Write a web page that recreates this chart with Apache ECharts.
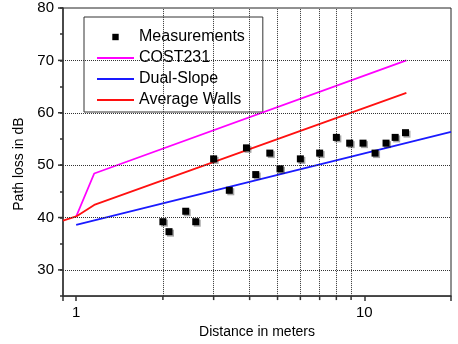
<!DOCTYPE html>
<html>
<head>
<meta charset="utf-8">
<script src="https://cdn.jsdelivr.net/npm/echarts@6/dist/echarts.min.js"></script>
<style>
  html, body { margin: 0; padding: 0; background: #fff; }
  #chart { width: 458px; height: 344px; }
</style>
</head>
<body>
<div id="chart"></div>
<script>
// measured points
const measDist = [2, 2.1, 2.4, 2.6, 3.0, 3.4, 3.9, 4.2, 4.7, 5.1, 6, 7, 8, 8.9, 9.9, 10.9, 11.9, 12.8, 13.9];
const measLoss = [39.2, 37.3, 41.2, 39.2, 51.2, 45.2, 53.3, 48.2, 52.3, 49.3, 51.2, 52.3, 55.3, 54.2, 54.2, 52.3, 54.2, 55.3, 56.2];

// model curves
const costDist = [1, 1.155, 14];
const costLoss = [40.2, 48.4, 70];
const dualDist = [1, 20];
const dualLoss = [38.6, 56.35];
const wallsDist = [0.9, 1, 1.155, 14];
const wallsLoss = [39.4, 40.2, 42.4, 63.8];

// axes
const xLabels = [1, 10];
const xGridValues = [2, 3, 4, 5, 6, 7, 8, 9];
const yGridValues = [30, 40, 50, 60, 70];
const yMajorTicks = [30, 40, 50, 60, 70, 80];

const pairs = (xs, ys) => xs.map((x, i) => [x, ys[i]]);

const chart = echarts.init(document.getElementById('chart'), null, { renderer: 'canvas' });

const gridLine = { color: '#333', width: 1, type: 'dotted' };
const font = 'Liberation Sans, Arial, sans-serif';

chart.setOption({
  animation: false,
  grid: {
    left: 63, right: 7, top: 8, bottom: 42,
    show: true, borderColor: '#222', borderWidth: 1
  },
  legend: {
    orient: 'vertical',
    left: 84, top: 17,
    padding: [12, 18, 4, 12],
    itemWidth: 37, itemHeight: 8, itemGap: 5,
    borderColor: '#333', borderWidth: 1,
    textStyle: { fontSize: 16, color: '#000', fontFamily: font },
    data: [
      { name: 'Measurements' },
      { name: 'COST231', itemStyle: { opacity: 0 } },
      { name: 'Dual-Slope', itemStyle: { opacity: 0 } },
      { name: 'Average Walls', itemStyle: { opacity: 0 } }
    ]
  },
  xAxis: {
    type: 'log', logBase: 10, min: 0.9, max: 20,
    name: 'Distance in meters', nameLocation: 'middle', nameGap: 24,
    nameTextStyle: { fontSize: 14, color: '#000', fontFamily: font },
    axisLine: { lineStyle: { color: '#333', width: 1.5 } },
    axisTick: { length: 5, lineStyle: { color: '#333', width: 1.5 } },
    axisLabel: {
      fontSize: 15, color: '#000', fontFamily: font, margin: 9,
      formatter: v => xLabels.some(t => Math.abs(t - v) < 1e-6) ? String(Math.round(v)) : ''
    },
    splitLine: { show: false }
  },
  yAxis: {
    type: 'value', min: 25, max: 80, interval: 5,
    name: 'Path loss in dB', nameLocation: 'middle', nameGap: 35,
    nameTextStyle: { fontSize: 14, color: '#000', fontFamily: font, padding: [0, 24, 0, 0] },
    axisLine: { show: true, lineStyle: { color: '#333', width: 1.5 } },
    axisTick: { length: 3, lineStyle: { color: '#333', width: 1.5 } },
    axisLabel: {
      fontSize: 15, color: '#000', fontFamily: font, margin: 9,
      formatter: v => (v % 10 === 0 ? String(v) : '')
    },
    splitLine: { show: false }
  },
  series: [
    {
      name: 'grid', type: 'line', data: [], z: 1, silent: true,
      markLine: {
        silent: true, symbol: 'none', label: { show: false },
        lineStyle: gridLine,
        data: yGridValues.map(v => ({ yAxis: v })).concat(xGridValues.map(v => ({ xAxis: v })))
      }
    },
    {
      // extra ticks: minor x ticks outside, longer major y ticks
      name: 'ticks', type: 'custom', clip: false, silent: true, z: 3,
      data: xGridValues.map(v => [v, 25, 0]).concat(yMajorTicks.map(v => [0.9, v, 1])),
      renderItem: (params, api) => {
        const p = api.coord([api.value(0), api.value(1)]);
        const isY = api.value(2) === 1;
        return {
          type: 'line',
          shape: isY
            ? { x1: p[0], y1: p[1], x2: p[0] - 5, y2: p[1] }
            : { x1: p[0], y1: p[1], x2: p[0], y2: p[1] + 4 },
          style: { stroke: '#333', lineWidth: 1.5 }
        };
      }
    },
    {
      name: 'COST231', type: 'line', symbol: 'none', z: 4,
      data: pairs(costDist, costLoss),
      lineStyle: { color: '#ff00ff', width: 1.8 }, itemStyle: { color: '#ff00ff' }
    },
    {
      name: 'Dual-Slope', type: 'line', symbol: 'none', z: 4,
      data: pairs(dualDist, dualLoss),
      lineStyle: { color: '#1a1aff', width: 1.8 }, itemStyle: { color: '#1a1aff' }
    },
    {
      name: 'Average Walls', type: 'line', symbol: 'none', z: 4,
      data: pairs(wallsDist, wallsLoss),
      lineStyle: { color: '#ff1010', width: 1.8 }, itemStyle: { color: '#ff1010' }
    },
    {
      name: 'Measurements', type: 'line', symbol: 'rect', symbolSize: 7, z: 5,
      data: pairs(measDist, measLoss),
      lineStyle: { width: 0 },
      itemStyle: {
        color: '#000',
        shadowColor: 'rgba(0,0,0,0.35)', shadowOffsetX: 1.5, shadowOffsetY: 1.5
      }
    }
  ]
});
</script>
</body>
</html>
